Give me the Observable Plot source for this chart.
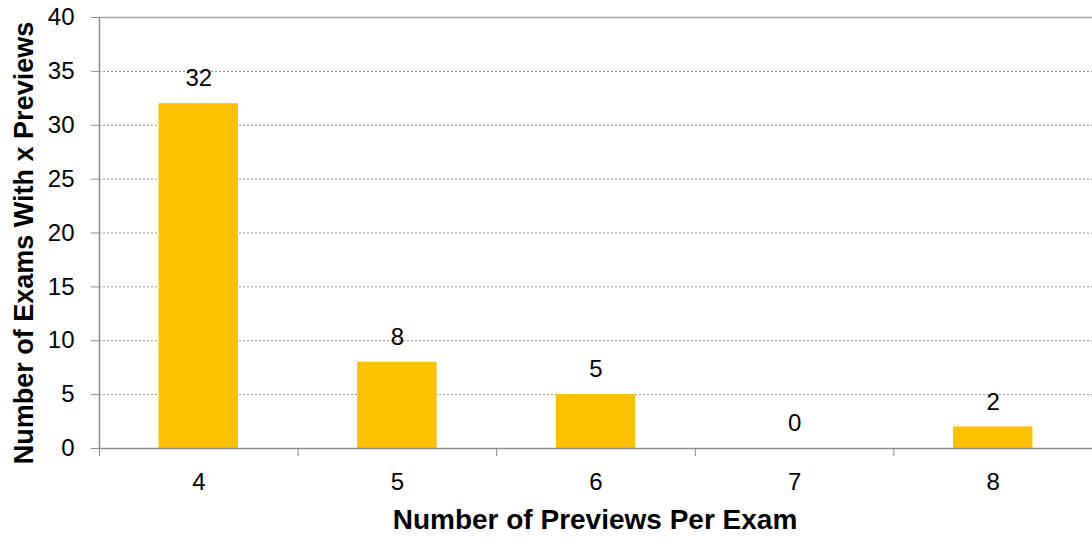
<!DOCTYPE html>
<html>
<head>
<meta charset="utf-8">
<script src="https://cdn.jsdelivr.net/npm/d3@7"></script>
<script src="https://cdn.jsdelivr.net/npm/@observablehq/plot@0.6"></script>
<style>
  html, body { margin: 0; padding: 0; background: #fff; }
  #chart svg { display: block; }
</style>
</head>
<body>
<div id="chart"></div>
<script>
// Previews per exam and how many exams had that count
const previews = [4, 5, 6, 7, 8];
const examCounts = [32, 8, 5, 0, 2];
const yTicks = [0, 5, 10, 15, 20, 25, 30, 35, 40];
const xTitle = "Number of Previews Per Exam";
const yTitle = "Number of Exams With x Previews";

const rows = previews.map((p, i) => ({previews: p, count: examCounts[i]}));
const halfBar = 0.2;
// category boundaries for the x-axis tick marks
const bounds = [...previews.map(p => p - 0.5), previews[previews.length - 1] + 0.5];

const font = "Liberation Sans, Arial, sans-serif";

const chart = Plot.plot({
  width: 1092,
  height: 540,
  marginLeft: 99,
  marginRight: 0,
  marginTop: 17,
  marginBottom: 92,
  style: {fontFamily: font, fontSize: "24px", color: "#000", background: "#fff"},
  x: {type: "linear", domain: [3.5, 8.5]},
  y: {domain: [0, 40]},
  marks: [
    Plot.gridY(yTicks.filter(t => t > 0 && t < 40), {stroke: "#8c8c8c", strokeOpacity: 1, strokeDasharray: "2,2", strokeWidth: 1}),
    Plot.ruleY([40], {stroke: "#a6a6a6", strokeWidth: 1.5}),
    Plot.rectY(rows, {x1: d => d.previews - halfBar, x2: d => d.previews + halfBar, y: "count", fill: "#FFC000"}),
    Plot.text(rows, {x: "previews", y: "count", text: d => String(d.count), dy: -25, fontSize: 24, fill: "#000"}),
    Plot.ruleY([0], {stroke: "#8c8c8c", strokeWidth: 1.5}),
    Plot.ruleX([3.5], {stroke: "#8c8c8c", strokeWidth: 1.5}),
    Plot.axisY({ticks: yTicks, tickSize: 8, tickPadding: 17, stroke: "#8c8c8c", fontSize: 24, fill: "#000", label: null}),
    Plot.axisX({ticks: bounds, tickSize: 8, tickFormat: () => "", stroke: "#8c8c8c", label: null}),
    Plot.axisX({ticks: previews, tickSize: 0, tickPadding: 24, tickFormat: "d", fontSize: 24, fill: "#000", label: null})
  ]
});

// axis titles
const svg = d3.select(chart);
svg.append("text")
  .attr("x", 595).attr("y", 529)
  .attr("text-anchor", "middle")
  .attr("font-family", font).attr("font-size", 28).attr("font-weight", "bold")
  .attr("fill", "#000")
  .text(xTitle);
svg.append("text")
  .attr("transform", "translate(33,243) rotate(-90)")
  .attr("text-anchor", "middle")
  .attr("font-family", font).attr("font-size", 27).attr("font-weight", "bold")
  .attr("fill", "#000")
  .text(yTitle);

document.getElementById("chart").appendChild(chart);
</script>
</body>
</html>
